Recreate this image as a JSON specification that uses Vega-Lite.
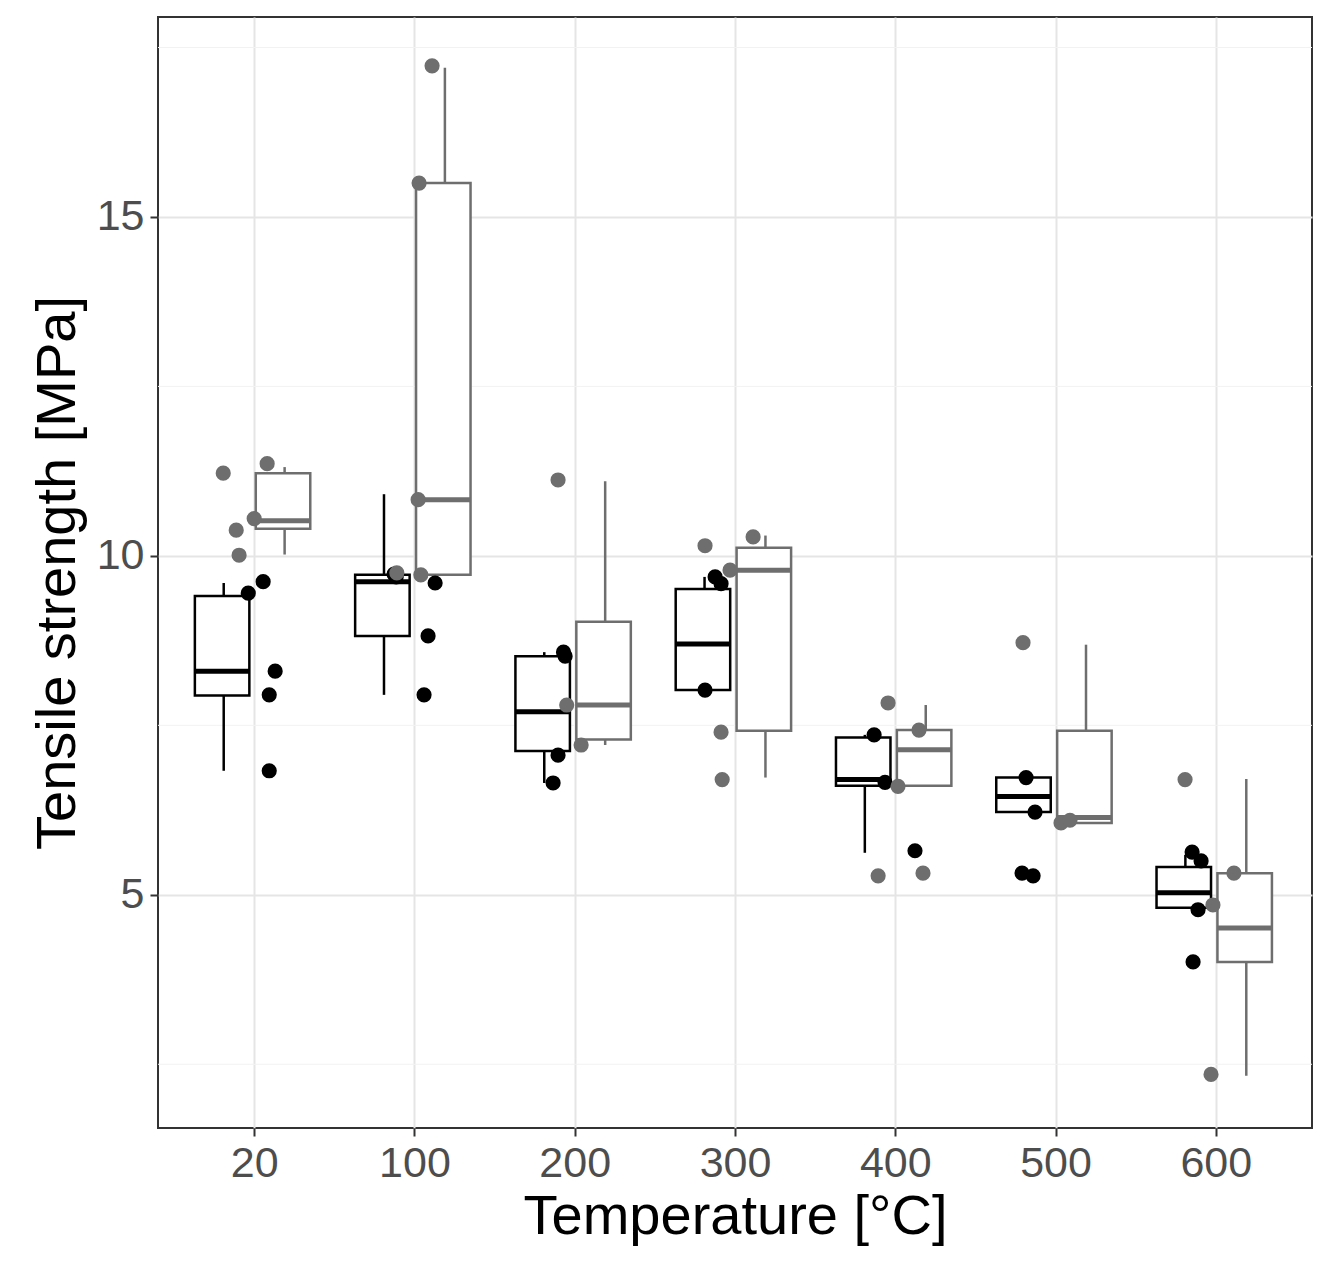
{
  "$schema": "https://vega.github.io/schema/vega-lite/v6.json",
  "width": 1154,
  "height": 1111,
  "autosize": "none",
  "padding": {"left": 158, "top": 17, "right": 16, "bottom": 154},
  "background": "white",
  "datasets": {
    "boxes": [
      {"g": "A", "xc": 0.81, "xl": 0.63, "xr": 0.97, "lo": 6.83, "q1": 7.94, "med": 8.30, "q3": 9.41, "hi": 9.60},
      {"g": "B", "xc": 1.19, "xl": 1.01, "xr": 1.35, "lo": 10.02, "q1": 10.40, "med": 10.52, "q3": 11.22, "hi": 11.31},
      {"g": "A", "xc": 1.81, "xl": 1.63, "xr": 1.97, "lo": 7.95, "q1": 8.82, "med": 9.62, "q3": 9.72, "hi": 10.91},
      {"g": "B", "xc": 2.19, "xl": 2.01, "xr": 2.35, "lo": 9.72, "q1": 9.72, "med": 10.83, "q3": 15.5, "hi": 17.2},
      {"g": "A", "xc": 2.81, "xl": 2.63, "xr": 2.97, "lo": 6.65, "q1": 7.12, "med": 7.70, "q3": 8.52, "hi": 8.58},
      {"g": "B", "xc": 3.19, "xl": 3.01, "xr": 3.35, "lo": 7.21, "q1": 7.29, "med": 7.80, "q3": 9.03, "hi": 11.1},
      {"g": "A", "xc": 3.81, "xl": 3.63, "xr": 3.97, "lo": 8.02, "q1": 8.02, "med": 8.70, "q3": 9.51, "hi": 9.69},
      {"g": "B", "xc": 4.19, "xl": 4.01, "xr": 4.35, "lo": 6.73, "q1": 7.42, "med": 9.79, "q3": 10.12, "hi": 10.30},
      {"g": "A", "xc": 4.81, "xl": 4.63, "xr": 4.97, "lo": 5.62, "q1": 6.61, "med": 6.70, "q3": 7.32, "hi": 7.36},
      {"g": "B", "xc": 5.19, "xl": 5.01, "xr": 5.35, "lo": 6.61, "q1": 6.61, "med": 7.14, "q3": 7.43, "hi": 7.80},
      {"g": "A", "xc": 5.81, "xl": 5.63, "xr": 5.97, "lo": 6.22, "q1": 6.22, "med": 6.45, "q3": 6.73, "hi": 6.76},
      {"g": "B", "xc": 6.19, "xl": 6.01, "xr": 6.35, "lo": 6.06, "q1": 6.06, "med": 6.14, "q3": 7.42, "hi": 8.69},
      {"g": "A", "xc": 6.81, "xl": 6.63, "xr": 6.97, "lo": 4.81, "q1": 4.81, "med": 5.03, "q3": 5.41, "hi": 5.59},
      {"g": "B", "xc": 7.19, "xl": 7.01, "xr": 7.35, "lo": 2.33, "q1": 4.01, "med": 4.51, "q3": 5.32, "hi": 6.71}
    ],
    "points": [
      {"g": "A", "x": 0.963, "v": 9.45}, {"g": "A", "x": 1.056, "v": 9.62}, {"g": "A", "x": 1.131, "v": 8.30},
      {"g": "A", "x": 1.094, "v": 7.95}, {"g": "A", "x": 1.094, "v": 6.83},
      {"g": "B", "x": 0.807, "v": 11.22}, {"g": "B", "x": 0.888, "v": 10.38}, {"g": "B", "x": 0.906, "v": 10.01},
      {"g": "B", "x": 1.081, "v": 11.36}, {"g": "B", "x": 1.0, "v": 10.55},
      {"g": "A", "x": 1.873, "v": 9.73}, {"g": "A", "x": 2.129, "v": 9.60}, {"g": "A", "x": 2.085, "v": 8.82},
      {"g": "A", "x": 2.06, "v": 7.95}, {"g": "A", "x": 1.886, "v": 9.69},
      {"g": "B", "x": 2.11, "v": 17.23}, {"g": "B", "x": 2.029, "v": 15.5}, {"g": "B", "x": 2.023, "v": 10.83},
      {"g": "B", "x": 1.89, "v": 9.75}, {"g": "B", "x": 2.04, "v": 9.72},
      {"g": "A", "x": 2.865, "v": 6.65}, {"g": "A", "x": 2.896, "v": 7.06}, {"g": "A", "x": 2.94, "v": 8.52},
      {"g": "A", "x": 2.93, "v": 8.58},
      {"g": "B", "x": 2.896, "v": 11.12}, {"g": "B", "x": 3.04, "v": 7.21}, {"g": "B", "x": 2.95, "v": 7.80},
      {"g": "A", "x": 3.813, "v": 8.02}, {"g": "A", "x": 3.913, "v": 9.59}, {"g": "A", "x": 3.876, "v": 9.69},
      {"g": "B", "x": 3.813, "v": 10.15}, {"g": "B", "x": 3.913, "v": 7.40}, {"g": "B", "x": 3.92, "v": 6.70},
      {"g": "B", "x": 3.969, "v": 9.79}, {"g": "B", "x": 4.113, "v": 10.28},
      {"g": "A", "x": 5.123, "v": 5.65}, {"g": "A", "x": 4.868, "v": 7.36}, {"g": "A", "x": 4.936, "v": 6.66},
      {"g": "B", "x": 4.955, "v": 7.83}, {"g": "B", "x": 4.893, "v": 5.28}, {"g": "B", "x": 5.173, "v": 5.32},
      {"g": "B", "x": 5.017, "v": 6.60}, {"g": "B", "x": 5.148, "v": 7.43},
      {"g": "A", "x": 5.791, "v": 5.32}, {"g": "A", "x": 5.86, "v": 5.28}, {"g": "A", "x": 5.816, "v": 6.73},
      {"g": "A", "x": 5.872, "v": 6.22},
      {"g": "B", "x": 5.797, "v": 8.72}, {"g": "B", "x": 6.034, "v": 6.06}, {"g": "B", "x": 6.09, "v": 6.10},
      {"g": "A", "x": 6.852, "v": 5.63}, {"g": "A", "x": 6.858, "v": 4.01}, {"g": "A", "x": 6.889, "v": 4.78},
      {"g": "A", "x": 6.908, "v": 5.50},
      {"g": "B", "x": 6.808, "v": 6.70}, {"g": "B", "x": 6.97, "v": 2.35}, {"g": "B", "x": 7.113, "v": 5.32},
      {"g": "B", "x": 6.982, "v": 4.85}
    ]
  },
  "encoding": {
    "color": {"field": "g", "type": "nominal", "legend": null,
      "scale": {"domain": ["A", "B"], "range": ["#000000", "#6e6e6e"]}}
  },
  "layer": [
    {
      "data": {"values": [{"v": 2.5}, {"v": 7.5}, {"v": 12.5}, {"v": 17.5}]},
      "mark": {"type": "rule", "stroke": "#f2f2f2", "strokeWidth": 1},
      "encoding": {
        "y": {"field": "v", "type": "quantitative",
          "scale": {"domain": [1.56, 17.95], "nice": false, "zero": false},
          "axis": {"values": [5, 10, 15], "format": "d", "title": "Tensile strength [MPa]"}}
      }
    },
    {
      "data": {"name": "boxes"},
      "mark": {"type": "rule", "strokeWidth": 2.5},
      "encoding": {
        "x": {"field": "xc", "type": "quantitative",
          "scale": {"domain": [0.4, 7.6], "nice": false, "zero": false},
          "axis": {"values": [1, 2, 3, 4, 5, 6, 7], "title": "Temperature [°C]",
            "labelExpr": "['20','100','200','300','400','500','600'][datum.value - 1]"}},
        "y": {"field": "lo", "type": "quantitative"},
        "y2": {"field": "hi"},
        "stroke": {"field": "g", "type": "nominal", "legend": null,
          "scale": {"domain": ["A", "B"], "range": ["#000000", "#6e6e6e"]}}
      }
    },
    {
      "data": {"name": "boxes"},
      "mark": {"type": "rect", "fill": "white", "strokeWidth": 2.5},
      "encoding": {
        "x": {"field": "xl", "type": "quantitative"},
        "x2": {"field": "xr"},
        "y": {"field": "q1", "type": "quantitative"},
        "y2": {"field": "q3"},
        "stroke": {"field": "g", "type": "nominal", "legend": null}
      }
    },
    {
      "data": {"name": "boxes"},
      "mark": {"type": "rule", "strokeWidth": 5},
      "encoding": {
        "x": {"field": "xl", "type": "quantitative"},
        "x2": {"field": "xr"},
        "y": {"field": "med", "type": "quantitative"},
        "stroke": {"field": "g", "type": "nominal", "legend": null}
      }
    },
    {
      "data": {"name": "points"},
      "mark": {"type": "circle", "size": 230, "opacity": 1},
      "encoding": {
        "x": {"field": "x", "type": "quantitative"},
        "y": {"field": "v", "type": "quantitative"}
      }
    }
  ],
  "config": {
    "font": "Liberation Sans",
    "view": {"stroke": "#333333", "strokeWidth": 2},
    "axis": {
      "grid": true, "gridColor": "#e5e5e5", "gridWidth": 2,
      "domain": false, "tickColor": "#333333", "tickSize": 8, "tickWidth": 2,
      "labelFontSize": 43, "labelColor": "#4d4d4d", "labelPadding": 6,
      "titleFontSize": 56, "titleFontWeight": "normal", "titleColor": "#000000"
    },
    "axisX": {"titlePadding": 4},
    "axisY": {"titlePadding": 10}
  }
}
